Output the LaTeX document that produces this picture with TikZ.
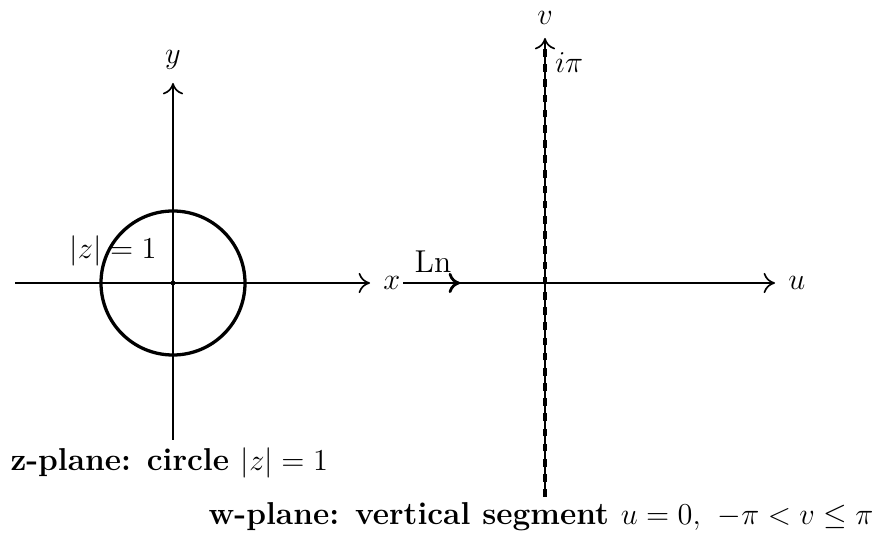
\documentclass[tikz,border=0pt]{standalone}
\usetikzlibrary{arrows.meta}
\begin{document}
\begin{tikzpicture}[x=0.013889cm,y=-0.013889cm,
  axis/.style={-{To[length=4.5pt,width=8pt]}, line width=0.65pt},
  lbl/.style={inner sep=1pt, font=\fontsize{12.5}{15}\selectfont},
  curve/.style={line width=1.3pt}]
\useasboundingbox (0,0) rectangle (885,539);
% z-plane
\coordinate (O) at (173,283);
\coordinate (xs) at (15,283);
\coordinate (xe) at (370,283);
\coordinate (ys) at (173,440);
\coordinate (ye) at (173,83);
\draw[axis] (xs) -- (xe) node[lbl, right=4pt] (xl) {$x$};
\draw[axis] (ys) -- (ye) node[lbl, above=4pt] (yl) {$y$};
\draw[curve] (O) circle[radius=72];
\fill (O) circle[radius=2.4];
\node[lbl] (zl) at (113,251) {$|z| = 1$};
\node[font=\fontsize{12.5}{15}\selectfont\bfseries, anchor=west, inner sep=0pt] (zcap) at (10,463) {z-plane: circle $|z| = 1$};
% w-plane
\coordinate (W) at (545,283);
\coordinate (us) at (403,283);
\coordinate (ue) at (775,283);
\coordinate (vs) at (545,497);
\coordinate (ve) at (545,38);
\coordinate (vt) at (545,48);
\draw[axis] (us) -- (ue) node[lbl, right=4pt] (ul) {$u$};
\draw[axis] (vs) -- (ve) node[lbl, above=4pt] (vl) {$v$};
\draw[curve, dashed] (vs) -- (vt);
\node[lbl, anchor=west] (ipi) at (552,63) {$i\pi$};
% mapping arrow
\coordinate (ma) at (430,283);
\coordinate (mb) at (460,283);
\draw[-{To[length=4.5pt,width=8pt]}, line width=1.1pt] (ma) -- (mb);
\node[lbl, anchor=south] (ln) at (433,276) {Ln};
\node[font=\fontsize{12.5}{15}\selectfont\bfseries, inner sep=0pt] (wcap) at (541,517) {w-plane: vertical segment $u = 0,\ -\pi < v \le \pi$};
\end{tikzpicture}
\end{document}
